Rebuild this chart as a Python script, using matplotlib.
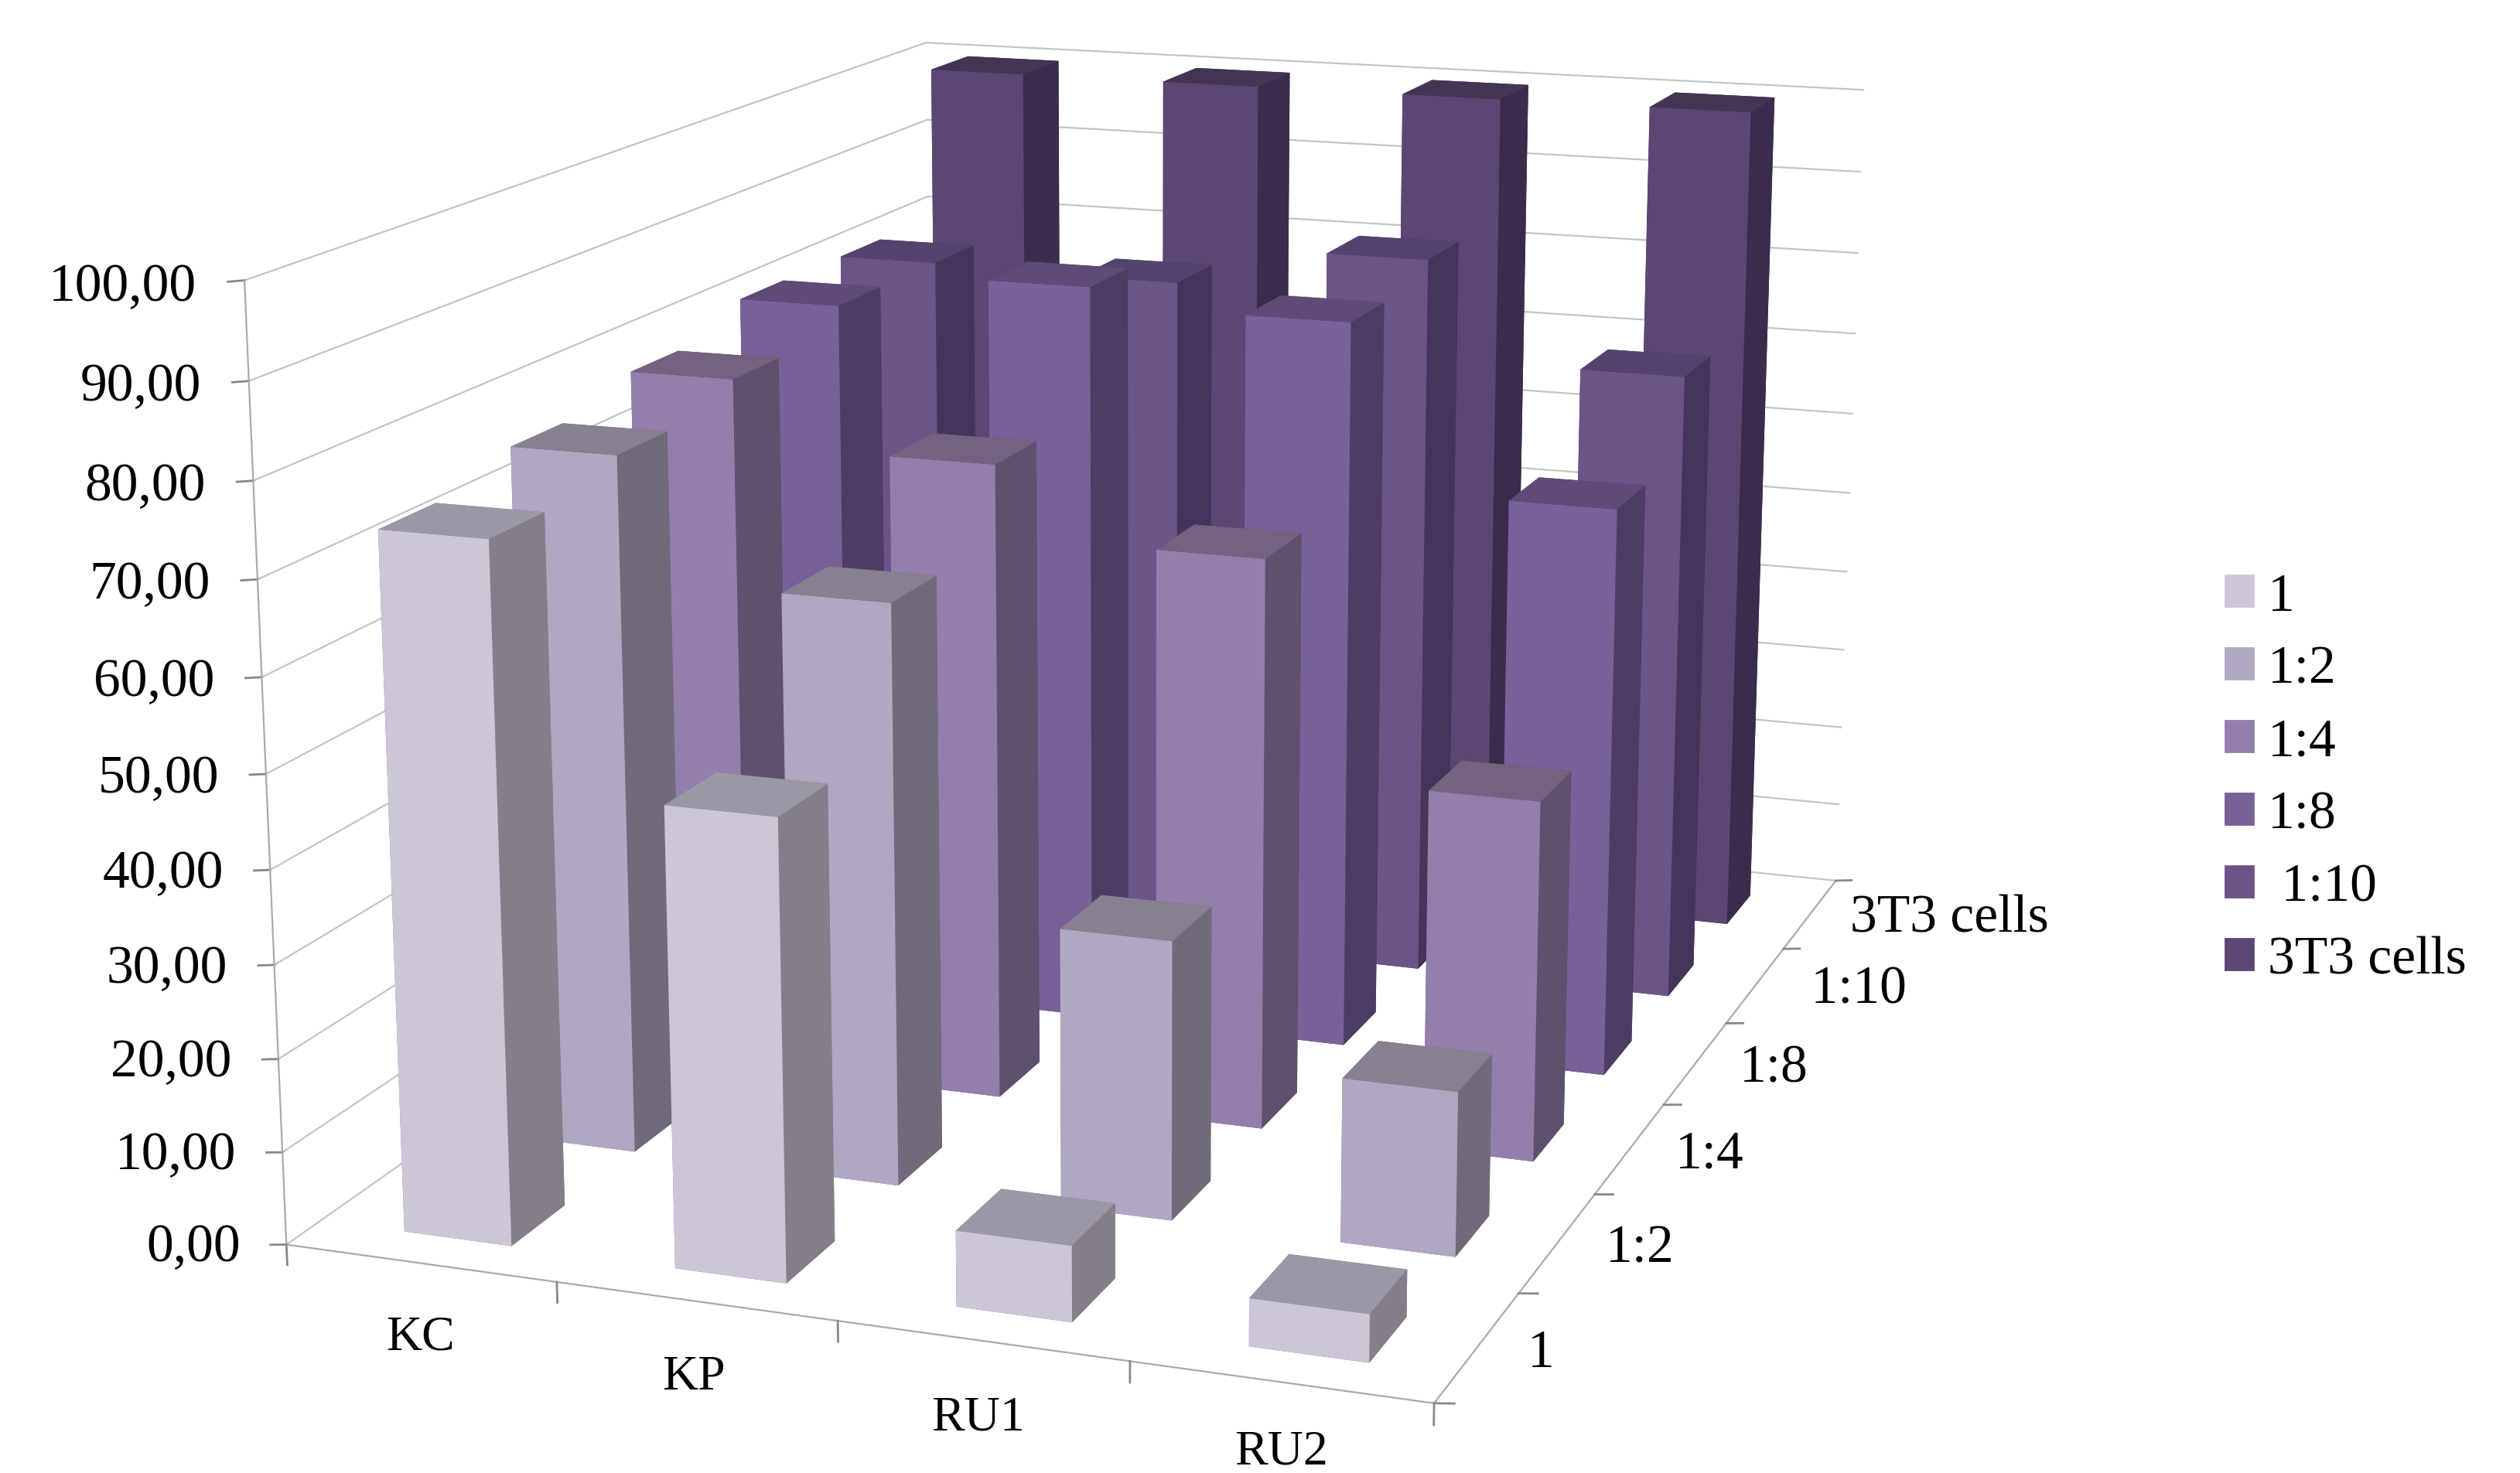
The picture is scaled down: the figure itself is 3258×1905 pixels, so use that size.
import matplotlib
matplotlib.use('Agg')
import matplotlib.pyplot as plt
from matplotlib.patches import Rectangle
from mpl_toolkits.mplot3d import proj3d

plt.rcParams['font.family'] = ['Liberation Serif', 'DejaVu Serif']

samples = ['KC', 'KP', 'RU1', 'RU2']
dilutions = ['1', '1:2', '1:4', '1:8', ' 1:10', '3T3 cells']

vals_1 = [74.2, 48.7, 8, 5]
vals_1_2 = [76.5, 63.3, 30.3, 17.7]
vals_1_4 = [78.8, 71.6, 63.7, 40]
vals_1_8 = [81.6, 85.7, 83.7, 65]
vals_1_10 = [81.5, 81, 85.6, 74]
vals_3t3 = [100, 100, 100, 100]
values = [vals_1, vals_1_2, vals_1_4, vals_1_8, vals_1_10, vals_3t3]

front_colors = ['#CCC6D8', '#B1A7C3', '#937EAC', '#786098', '#6C5388', '#5C4674']
side_colors = ['#847E8A', '#716A7B', '#5F506D', '#4E3D62', '#46355A', '#3B2C4D']
top_colors = ['#9B98A5', '#888090', '#73637F', '#5F4B78', '#55436F', '#453555']

grid_color = '#C4C4C4'
axis_color = '#AAAAAA'
tick_color = '#888888'

fig = plt.figure(figsize=(3258 / 200, 1906 / 200), dpi=200)
ax = fig.add_axes([0.0321, -0.1395, 0.8194, 1.4006], projection='3d', computed_zorder=False)
ax.set_xlim(0, 4, view_margin=0)
ax.set_ylim(0, 6, view_margin=0)
ax.set_zlim(0, 100, view_margin=0)
ax.view_init(elev=14.293, azim=-70.316)
ax.set_box_aspect((1.221, 1.771, 1.0))
ax.set_proj_type('persp', focal_length=0.463)
ax.set_axis_off()


def label(x, y, z, text, **kw):
    # place a flat label at a projected 3d position
    u, v, _ = proj3d.proj_transform(x, y, z, ax.get_proj())
    ax.text2D(u, v, text, transform=ax.transData, **kw)


# bars go back to front so the nearer ones cover the farther ones
bar_w, bar_d = 0.4, 0.42
for j in range(5, -1, -1):
    for i in range(4):
        ax.bar3d(i + 0.315, j + 0.25, 0, bar_w, bar_d, values[j][i],
                 color=[side_colors[j], top_colors[j], front_colors[j],
                        side_colors[j], side_colors[j], side_colors[j]],
                 shade=False, linewidth=0, zorder=10 + (5 - j) * 10 + i)

for z in range(0, 101, 10):
    ax.plot([0, 0], [0, 6], [z, z], color=grid_color, lw=0.8, zorder=1)
    ax.plot([0, 4], [6, 6], [z, z], color=grid_color, lw=0.8, zorder=1)
    ax.plot([0, -0.06], [0, 0], [z, z - 0.25], color=tick_color, lw=1.0, zorder=1)
    label(-0.175, 0, z - 0.4, ('%.2f' % z).replace('.', ','), ha='right', va='center_baseline', fontsize=25)
ax.plot([0, 0], [0, 0], [0, 100], color=axis_color, lw=0.8, zorder=1)
ax.plot([0, 4], [0, 0], [0, 0], color=axis_color, lw=0.8, zorder=2)
ax.plot([4, 4], [0, 6], [0, 0], color=axis_color, lw=0.8, zorder=2)

for x in range(5):
    ax.plot([x, x], [0, 0], [0, -2.2], color=tick_color, lw=1.0, zorder=2)
for y in range(7):
    ax.plot([4, 4.065], [y, y], [0, 0.25], color=tick_color, lw=1.0, zorder=2)

for i, name in enumerate(samples):
    # the last label sits a little higher to stay inside the figure
    label_y = -0.53 if name == 'RU2' else -0.6
    label(0.8 + 0.957 * i, label_y, 0, name, ha='center', va='center', fontsize=23)
for j, name in enumerate(dilutions):
    label(4.165, j + 0.5, 0, name, ha='left', va='center', fontsize=25)

handles = [Rectangle((0, 0), 1, 1, color=c) for c in front_colors]
fig.legend(handles, dilutions, loc='upper left', bbox_to_anchor=(0.8638, 0.644), frameon=False,
           fontsize=25, handlelength=0.52, handleheight=0.52, labelspacing=0.44, handletextpad=0.28)

fig.savefig('out.png', dpi=200)
